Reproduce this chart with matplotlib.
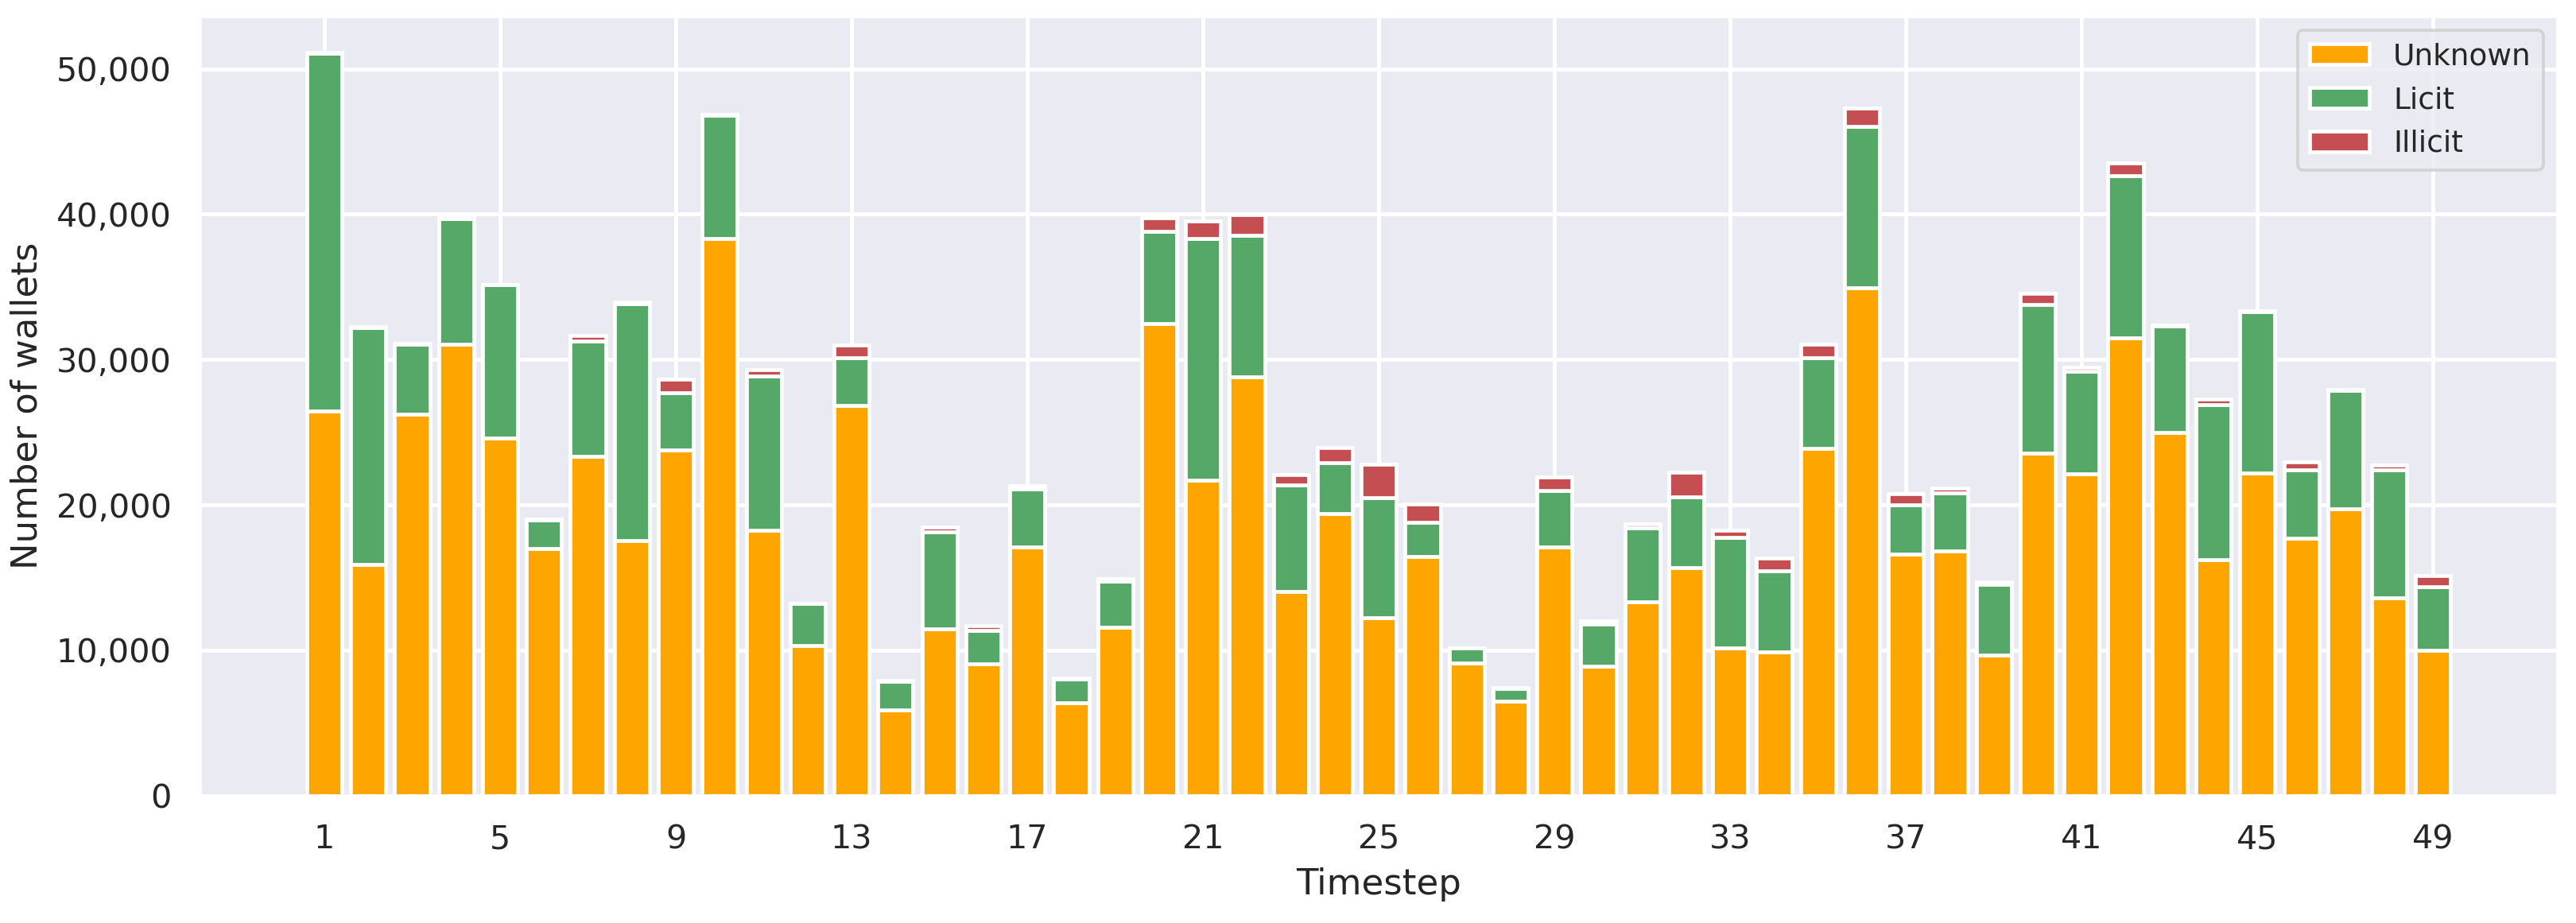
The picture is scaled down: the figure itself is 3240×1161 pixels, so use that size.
import numpy as np
import matplotlib
matplotlib.use('Agg')
import matplotlib.pyplot as plt
import seaborn as sns
from matplotlib.ticker import StrMethodFormatter

# wallet counts per timestep
timesteps = list(range(1, 50))
unknown = [26460, 15880, 26220, 31070, 24600, 17010, 23350, 17570, 23800, 38300,
           18260, 10300, 26830, 5900, 11470, 9050, 17090, 6380, 11600, 32480,
           21700, 28800, 14060, 19390, 12240, 16440, 9130, 6500, 17130, 8890,
           13330, 15680, 10140, 9860, 23880, 34910, 16600, 16810, 9660, 23550,
           22140, 31510, 24970, 16240, 22220, 17700, 19720, 13620, 10020]
licit = [24600, 16320, 4850, 8650, 10540, 1980, 7920, 16280, 3920, 8480,
         10590, 2910, 3270, 1980, 6670, 2300, 4000, 1660, 3150, 6340,
         16600, 9740, 7310, 3520, 8280, 2380, 1010, 850, 3840, 2910,
         5090, 4850, 7640, 5620, 6260, 11110, 3430, 4040, 4890, 10260,
         7030, 11150, 7350, 10670, 11070, 4690, 8160, 8810, 4360]
illicit = [40, 60, 30, 40, 30, 20, 360, 80, 930, 60,
           440, 30, 890, 20, 360, 360, 240, 40, 150, 930,
           1250, 1450, 730, 1050, 2260, 1250, 40, 60, 970, 200,
           280, 1740, 490, 850, 890, 1250, 730, 320, 160, 770,
           320, 890, 40, 360, 40, 570, 60, 320, 770]

sns.set_theme(style='darkgrid')
plt.rcParams['font.family'] = ['DejaVu Sans']

fig, ax = plt.subplots(figsize=(12, 4.3), dpi=270)
fig.subplots_adjust(left=0.0775, right=0.993, top=0.983, bottom=0.138)

x = np.array(timesteps)
u = np.array(unknown)
l = np.array(licit)
i = np.array(illicit)

lw = 1.25
ax.bar(x, u, color='orange', edgecolor='white', linewidth=lw, label='Unknown')
ax.bar(x, l, bottom=u, color='#55A868', edgecolor='white', linewidth=lw, label='Licit')
ax.bar(x, i, bottom=u + l, color='#C44E52', edgecolor='white', linewidth=lw, label='Illicit')

ax.set_xticks(range(1, 50, 4))
ax.yaxis.set_major_formatter(StrMethodFormatter('{x:,.0f}'))
ax.tick_params(labelsize=11)
ax.grid(True, linewidth=1.33)
ax.set_xlabel('Timestep', fontsize=12)
ax.set_ylabel('Number of wallets', fontsize=12)
ax.legend(loc='upper right', fontsize=10)

plt.savefig('out.png', dpi=270)
